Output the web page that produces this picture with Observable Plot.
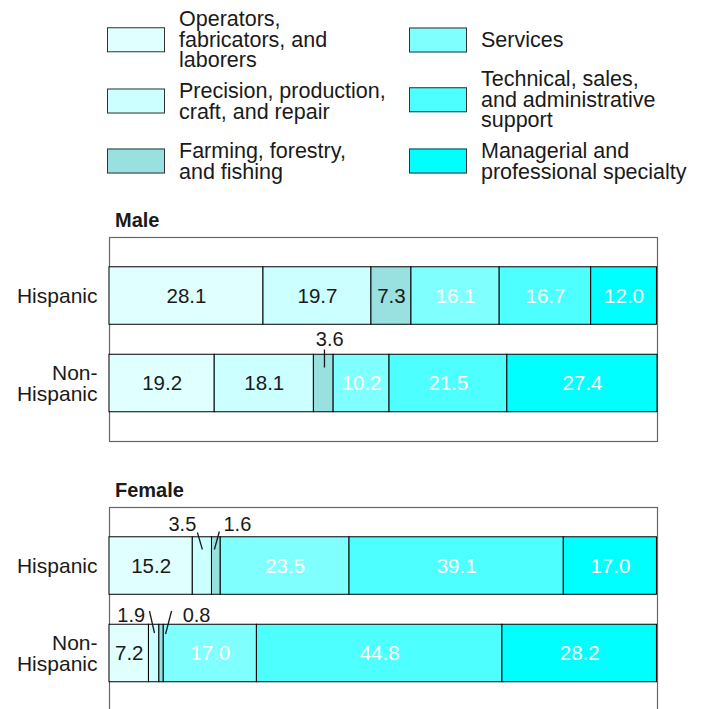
<!DOCTYPE html>
<html>
<head>
<meta charset="utf-8">
<script src="https://cdn.jsdelivr.net/npm/d3@7"></script>
<script src="https://cdn.jsdelivr.net/npm/@observablehq/plot@0.6"></script>
<style>
  html, body { margin: 0; padding: 0; background: #fff; }
  #root { position: relative; width: 704px; height: 709px; overflow: hidden; font-family: "Liberation Sans", Arial, sans-serif; color: #1a1a1a; }
  .leg { position: absolute; display: flex; align-items: center; transform: translateY(-50%); }
  .sw { width: 58px; height: 25px; box-sizing: border-box; border: 1px solid #333; flex: none; }
  .lt { margin-left: 14px; font-size: 21.5px; line-height: 20.5px; white-space: pre; }
  .title { position: absolute; font-weight: bold; font-size: 20px; transform: translateY(-50%); }
  .chart { position: absolute; left: 0; }
</style>
</head>
<body>
<div id="root"></div>
<script>
// ---- data ----
const categories = [
  "Operators, fabricators, and laborers",
  "Precision, production, craft, and repair",
  "Farming, forestry, and fishing",
  "Services",
  "Technical, sales, and administrative support",
  "Managerial and professional specialty"
];
const legendLabels = [
  "Operators,\nfabricators, and\nlaborers",
  "Precision, production,\ncraft, and repair",
  "Farming, forestry,\nand fishing",
  "Services",
  "Technical, sales,\nand administrative\nsupport",
  "Managerial and\nprofessional specialty"
];
const colors = ["#e0ffff", "#ccffff", "#99e0e0", "#80ffff", "#4dffff", "#00ffff"];
const rowLabels = ["Hispanic", "Non-\nHispanic"];
const panelTitles = ["Male", "Female"];

const maleHispanic = [28.1, 19.7, 7.3, 16.1, 16.7, 12.0];
const maleNonHispanic = [19.2, 18.1, 3.6, 10.2, 21.5, 27.4];
const femaleHispanic = [15.2, 3.5, 1.6, 23.5, 39.1, 17.0];
const femaleNonHispanic = [7.2, 1.9, 0.8, 17.0, 44.8, 28.2];

// ---- layout ----
const root = document.getElementById("root");
const X0 = 109, X1 = 657, FRAME = 204, MT = 10, MB = 10;
const yDomain = [-0.669, 1.663];
const pxPerX = (X1 - X0) / 100;
const pxPerY = FRAME / (yDomain[1] - yDomain[0]);
const HALF = 28.75 / pxPerY;
const FONT = "'Liberation Sans', Arial, sans-serif";
const DARK = "#1a1a1a";

// callout annotation layout (pixel offsets from segment centre)
const maleCallouts = [
  {row: 1, ci: 2, t: [6, -44], l: [0.7, -34, 0.7, -16]}
];
const femaleCallouts = [
  {row: 0, ci: 1, t: [-20, -41.5], l: [-5, -33.5, 0, -16.5]},
  {row: 0, ci: 2, t: [21, -41.5], l: [3, -34.5, -2, -16.5]},
  {row: 1, ci: 1, t: [-23, -38], l: [-4.7, -42.5, 0.3, -20.5]},
  {row: 1, ci: 2, t: [35, -38], l: [10, -42.5, 4, -19.5]}
];

// ---- legend ----
const legendPos = [[107, 40], [107, 101], [107, 161], [409, 40], [409, 100], [409, 161]];
categories.forEach((c, i) => {
  const d = document.createElement("div");
  d.className = "leg";
  d.style.left = legendPos[i][0] + "px";
  d.style.top = legendPos[i][1] + "px";
  const sw = document.createElement("div");
  sw.className = "sw";
  sw.style.background = colors[i];
  const t = document.createElement("div");
  t.className = "lt";
  t.textContent = legendLabels[i];
  d.appendChild(sw); d.appendChild(t);
  root.appendChild(d);
});

function panel(values, callouts) {
  const data = [];
  values.forEach((vals, r) => vals.forEach((v, c) => data.push({row: r, cat: categories[c], ci: c, value: v})));
  const mids = values.map(vals => {
    const cs = Array.from(d3.cumsum(vals));
    return vals.map((v, i) => cs[i] - v / 2);
  });
  const co = callouts.map(c => ({...c, x: mids[c.row][c.ci], label: values[c.row][c.ci].toFixed(1)}));
  return Plot.plot({
    width: 704,
    height: MT + FRAME + MB,
    marginLeft: X0, marginRight: 704 - X1, marginTop: MT, marginBottom: MB,
    x: {domain: [0, 100], axis: null},
    y: {domain: yDomain, range: [MT, MT + FRAME], axis: null},
    color: {domain: categories, range: colors},
    style: {fontFamily: FONT, fontSize: "20px", background: "transparent", color: DARK, overflow: "visible"},
    marks: [
      Plot.frame({stroke: "#666", strokeWidth: 1.2}),
      Plot.rect(data, Plot.stackX({
        x: "value",
        y1: d => d.row - HALF,
        y2: d => d.row + HALF,
        fill: "cat",
        stroke: "black",
        strokeWidth: 1
      })),
      Plot.text(data, Plot.stackX({
        x: "value", y: "row",
        text: d => (d.ci < 3 && d.value >= 5) ? d.value.toFixed(1) : "",
        fill: DARK, fontSize: 20.5
      })),
      Plot.text(data, Plot.stackX({
        x: "value", y: "row",
        text: d => (d.ci >= 3 && d.value >= 5) ? d.value.toFixed(1) : "",
        fill: "white", fontSize: 20.5
      })),
      Plot.link(co, {
        x1: d => d.x + d.l[0] / pxPerX, y1: d => d.row + d.l[1] / pxPerY,
        x2: d => d.x + d.l[2] / pxPerX, y2: d => d.row + d.l[3] / pxPerY,
        stroke: DARK, strokeWidth: 1.3
      }),
      Plot.text(co, {
        x: d => d.x + d.t[0] / pxPerX, y: d => d.row + d.t[1] / pxPerY,
        text: "label", fill: DARK, fontSize: 20
      }),
      Plot.text(rowLabels, {
        y: (d, i) => i, frameAnchor: "left", dx: -12, textAnchor: "end",
        text: d => d, fill: DARK, fontSize: 21, lineHeight: 1.02
      })
    ]
  });
}

const frameTops = [237, 507];
[[maleHispanic, maleNonHispanic, maleCallouts], [femaleHispanic, femaleNonHispanic, femaleCallouts]].forEach((p, k) => {
  const svg = panel([p[0], p[1]], p[2]);
  const wrap = document.createElement("div");
  wrap.className = "chart";
  wrap.style.top = (frameTops[k] - MT) + "px";
  wrap.appendChild(svg);
  root.appendChild(wrap);
  const t = document.createElement("div");
  t.className = "title";
  t.style.left = "115px";
  t.style.top = (frameTops[k] - 17) + "px";
  t.textContent = panelTitles[k];
  root.appendChild(t);
});
</script>
</body>
</html>
